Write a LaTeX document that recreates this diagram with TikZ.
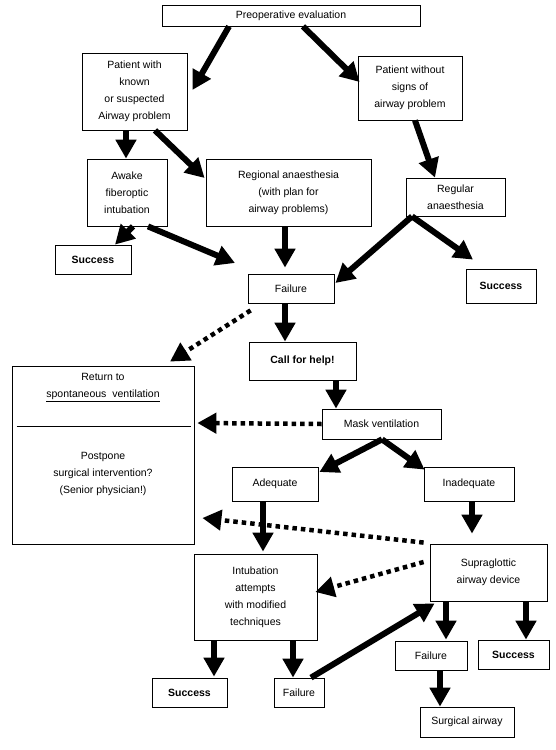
\documentclass[tikz,border=0pt]{standalone}
\usepackage{fontspec}
\setmainfont{Liberation Sans}
\usetikzlibrary{positioning,calc,arrows.meta}

\begin{document}
\begin{tikzpicture}[
      x=1pt, y=-1pt,
      txt/.style={align=center, inner sep=0pt, font=\fontsize{10.5}{17}\selectfont},
      box/.style={txt, draw, line width=0.8pt},
      arr/.style={line width=6pt, -{Triangle[length=19pt, width=20pt]}},
      dotarr/.style={line width=4.5pt, dash pattern=on 4.5pt off 4pt, -{Triangle[length=19pt, width=20pt]}}
    ]
    \useasboundingbox (0,0) rectangle (556,750);

    % Boxes
    \node[box, minimum width=258pt, minimum height=21pt] (preop) at (291,15.5) {Preoperative evaluation};
    \node[box, minimum width=105pt, minimum height=77pt] (withp) at (134.5,91.5) {Patient with\\known\\or suspected\\Airway problem};
    \node[box, minimum width=104pt, minimum height=64pt] (without) at (410,88) {Patient without\\signs of\\airway problem};
    \node[box, minimum width=80pt, minimum height=67pt] (awake) at (127,192.5) {Awake\\fiberoptic\\intubation};
    \node[box, minimum width=165pt, minimum height=67pt] (regional) at (288.5,192.5) {Regional anaesthesia\\(with plan for\\airway problems)};
    \node[box, minimum width=99pt, minimum height=38pt] (regular) at (455.5,197) {Regular\\anaesthesia};
    \node[box, minimum width=76pt, minimum height=29pt] (succA) at (93,259.5) {\textbf{Success}};
    \node[box, minimum width=86pt, minimum height=29pt] (fail1) at (291,288.5) {Failure};
    \node[box, minimum width=70pt, minimum height=34pt] (succB) at (501,286) {\textbf{Success}};
    \node[box, minimum width=107pt, minimum height=38pt] (help) at (302.5,361) {\textbf{Call for help!}};
    \node[box, minimum width=182pt, minimum height=178pt] (ret) at (103,455) {};
    \node[box, minimum width=119pt, minimum height=30pt] (mask) at (381.5,424) {Mask ventilation};
    \node[box, minimum width=86pt, minimum height=34pt] (adeq) at (275,484) {Adequate};
    \node[box, minimum width=90pt, minimum height=34pt] (inad) at (469,484) {Inadequate};
    \node[box, minimum width=123pt, minimum height=86pt] (intub) at (255.5,597) {Intubation\\attempts\\with modified\\techniques};
    \node[box, minimum width=117pt, minimum height=57pt] (sga) at (488.5,572.5) {Supraglottic\\airway device};
    \node[box, minimum width=72pt, minimum height=29pt] (failSGA) at (431,655.5) {Failure};
    \node[box, minimum width=71pt, minimum height=29pt] (succSGA) at (513.5,654.5) {\textbf{Success}};
    \node[box, minimum width=75pt, minimum height=29pt] (succC) at (189.5,692.5) {\textbf{Success}};
    \node[box, minimum width=50pt, minimum height=29pt] (fail2) at (299,692.5) {Failure};
    \node[box, minimum width=94pt, minimum height=30pt] (surg) at (467,722) {Surgical airway};

    % Text of the return box
    \node[txt] (retup) at (103,387.5) {Return to\\\underline{spontaneous\ \ ventilation}};
    \draw[line width=0.8pt] ($(ret.north west)+(5,61)$) -- ($(ret.north east)+(-3,61)$);
    \node[txt] (retdown) at (103,474) {Postpone\\surgical intervention?\\(Senior physician!)};

    \coordinate (awakeend) at (235,263);

    % Arrows
    \draw[arr] ($(preop.south)+(-62,0)$) -- ($(withp.east)+(5,-1.5)$);
    \draw[arr] ($(preop.south)+(12,0)$) -- ($(without.west)+(2,-6)$);
    \draw[arr] ($(withp.south)+(-8.5,0)$) -- ($(awake.north)+(-1,0)$);
    \draw[arr] ($(withp.south)+(20.5,0)$) -- ($(regional.west)+(-1,-14.5)$);
    \draw[arr] ($(without.south)+(5,0)$) -- ($(regular.north)+(-20.5,0)$);
    \draw[arr] ($(awake.south)+(6,0)$) -- ($(succA.north)+(22,0)$);
    \draw[arr] ($(awake.south)+(21,0)$) -- (awakeend);
    \draw[arr] ($(regional.south)+(-3.5,0)$) -- ($(fail1.north)+(-6,-6)$);
    \draw[arr] ($(regular.south)+(-43.5,0)$) -- ($(fail1.east)+(1,-5.5)$);
    \draw[arr] ($(regular.south)+(-43.5,0)$) -- ($(succB.north)+(-28,-9)$);
    \draw[arr] ($(fail1.south)+(-6,0)$) -- ($(help.north)+(-17.5,0)$);
    \draw[dotarr] ($(fail1.south west)+(3,7)$) -- ($(ret.north)+(67,-4)$);
    \draw[arr] ($(help.south)+(33.5,0)$) -- ($(mask.north)+(-45.5,0)$);
    \draw[dotarr] (mask.west) -- ($(ret.east)+(3,-32)$);
    \draw[arr] ($(mask.south)+(0.5,0)$) -- ($(adeq.east)+(1,-12)$);
    \draw[arr] ($(mask.south)+(0.5,0)$) -- ($(inad.north west)+(1,3)$);
    \draw[arr] ($(adeq.south)+(-12,0)$) -- ($(intub.north)+(7.5,-2)$);
    \draw[arr] ($(inad.south)+(3,0)$) -- ($(sga.north)+(-16.5,-10)$);
    \draw[dotarr] ($(sga.north west)+(-6,-1)$) -- ($(ret.east)+(8,63)$);
    \draw[dotarr] ($(sga.west)+(-6,-10.5)$) -- ($(intub.east)+(-2,-5)$);
    \draw[arr] ($(intub.south)+(-41.5,0)$) -- ($(succC.north)+(24.5,-1)$);
    \draw[arr] ($(intub.south)+(37.5,0)$) -- ($(fail2.north)+(-6,0)$);
    \draw[arr] ($(fail2.north)+(12,0)$) -- ($(sga.south west)+(5,2)$);
    \draw[arr] ($(sga.south)+(-42.5,0)$) -- ($(failSGA.north)+(15,-1)$);
    \draw[arr] ($(sga.south)+(37.5,0)$) -- ($(succSGA.north)+(12.5,0)$);
    \draw[arr] ($(failSGA.south)+(9,0)$) -- ($(surg.north)+(-27,0)$);

  \end{tikzpicture}
\end{document}
